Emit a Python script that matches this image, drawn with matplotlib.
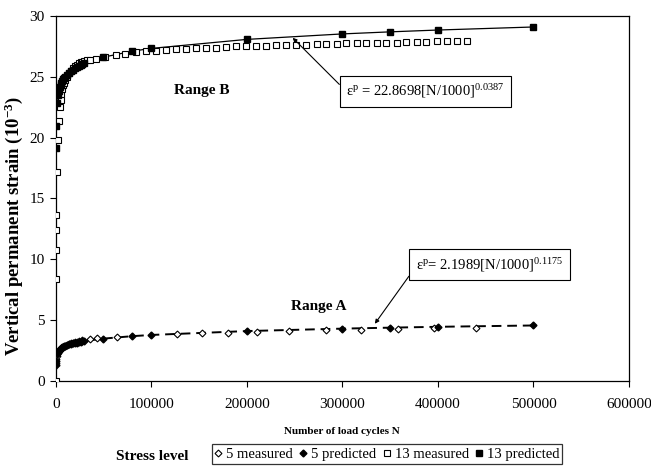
import matplotlib
matplotlib.use("Agg")
import matplotlib.pyplot as plt
from matplotlib.lines import Line2D

plt.rcParams["font.family"] = ["Liberation Serif", "DejaVu Serif"]
plt.rcParams["mathtext.fontset"] = "custom"
plt.rcParams["mathtext.rm"] = "Liberation Serif"
plt.rcParams["mathtext.it"] = "Liberation Serif:italic"
plt.rcParams["mathtext.bf"] = "Liberation Serif:bold"
plt.rcParams["mathtext.default"] = "regular"

# Stress level 13 (Range B) - measured
n13_meas = [0, 10, 100, 200, 500, 1000, 2000, 3000, 4000, 5000, 6000, 7000, 8000,
            9000, 10000, 12000, 14000, 16000, 18000, 20000, 22000, 24000, 26000,
            28000, 30000, 33000, 36000,
            42000, 52000, 63000, 73000, 84000, 94000, 105000, 115000, 126000,
            136000, 147000, 157000, 168000, 178000, 189000, 199000, 210000,
            220000, 231000, 241000, 252000, 262000, 273000, 283000, 294000,
            304000, 315000, 325000, 336000, 346000, 357000, 367000, 378000,
            388000, 399000, 409000, 420000, 430000]
e13_meas = [0.0, 8.4, 10.8, 12.4, 13.6, 17.2, 19.8, 21.4, 22.5, 23.1, 23.6, 24.0, 24.3,
            24.5, 24.7, 25.0, 25.3, 25.5, 25.7, 25.85, 26.0, 26.1, 26.2,
            26.25, 26.3, 26.35, 26.4,
            26.45, 26.65, 26.8, 26.9, 27.0, 27.1, 27.15, 27.2, 27.25,
            27.3, 27.35, 27.4, 27.4, 27.45, 27.5, 27.5, 27.55,
            27.55, 27.6, 27.6, 27.65, 27.65, 27.7, 27.7, 27.7,
            27.75, 27.75, 27.75, 27.8, 27.8, 27.8, 27.85, 27.85,
            27.85, 27.9, 27.9, 27.9, 27.95]

# Stress level 13 - predicted, eps = 22.8698 (N/1000)^0.0387
n_pred = [10, 100, 1000, 2000, 3000, 4000, 5000, 6000, 7000, 8000, 9000, 10000,
          12000, 14000, 16000, 18000, 20000, 22000, 24000, 26000, 28000, 30000,
          50000, 80000, 100000, 200000, 300000, 350000, 400000, 500000]
e13_pred = [19.14, 20.92, 22.87, 23.49, 23.86, 24.13, 24.34, 24.51, 24.66, 24.79, 24.90,
            25.00, 25.18, 25.33, 25.46, 25.58, 25.68, 25.78, 25.86, 25.94, 26.02,
            26.09, 26.61, 27.10, 27.33, 28.07, 28.52, 28.69, 28.84, 29.09]

# Stress level 5 (Range A) - measured
n5_meas = [100, 500, 1000, 2000, 3000, 4000, 5000, 6000, 8000, 10000, 12000, 14000,
           16000, 18000, 20000, 22000, 24000, 27000, 36000, 43000, 64000, 127000,
           153000, 180000, 211000, 244000, 283000, 320000, 358000, 396000, 440000]
e5_meas = [1.5, 1.8, 2.05, 2.3, 2.45, 2.55, 2.65, 2.72, 2.82, 2.9, 2.97, 3.03,
           3.08, 3.12, 3.17, 3.22, 3.27, 3.35, 3.45, 3.5, 3.6, 3.85,
           3.9, 3.95, 4.05, 4.1, 4.2, 4.22, 4.3, 4.33, 4.38]

# Stress level 5 - predicted, eps = 2.1989 (N/1000)^0.1175
e5_pred = [1.28, 1.68, 2.20, 2.39, 2.50, 2.59, 2.66, 2.71, 2.76, 2.81, 2.85,
           2.88, 2.94, 3.00, 3.05, 3.09, 3.13, 3.16, 3.19, 3.22, 3.25,
           3.28, 3.48, 3.68, 3.78, 4.10, 4.30, 4.38, 4.45, 4.56]

fig = plt.figure(figsize=(6.51, 4.68), dpi=100)
ax = fig.add_axes([0.0856, 0.186, 0.8806, 0.780])

ax.plot(n_pred, e5_pred, color="black", linestyle=(0, (5, 3)), linewidth=1.4, zorder=2)
ax.plot(n5_meas, e5_meas, linestyle="none", marker="D", markersize=3.5,
        markerfacecolor="white", markeredgecolor="black", markeredgewidth=0.8, zorder=3)
ax.plot(n_pred, e5_pred, linestyle="none", marker="D", markersize=3.5,
        color="black", zorder=4)

ax.plot(n_pred, e13_pred, color="black", linewidth=0.9, zorder=2)
ax.plot(n13_meas, e13_meas, linestyle="none", marker="s", markersize=4.5,
        markerfacecolor="white", markeredgecolor="black", markeredgewidth=0.8, zorder=3)
ax.plot(n_pred, e13_pred, linestyle="none", marker="s", markersize=5,
        color="black", zorder=4)

ax.set_xlim(0, 600000)
ax.set_ylim(0, 30)
ax.set_xticks(range(0, 600001, 100000))
ax.set_yticks(range(0, 31, 5))
ax.tick_params(direction="out", length=4, width=0.8, labelsize=11)
ax.tick_params(axis="x", pad=8)
ax.tick_params(axis="y", pad=4)
for s in ax.spines.values():
    s.set_linewidth(0.9)

# y label placed on the figure so it sits low along the left edge
fig.text(14 / 651, 1 - 226 / 468, r"Vertical permanent strain (10$^{-3}$)",
         fontsize=13.5, fontweight="bold", rotation=90, ha="center", va="center")
ax.set_xlabel("Number of load cycles N", fontsize=8, fontweight="bold", labelpad=12)

ax.text(153000, 23.9, "Range B", fontsize=11, fontweight="bold", ha="center", va="center")
ax.text(275000, 6.1, "Range A", fontsize=11, fontweight="bold", ha="center", va="center")

box = dict(boxstyle="square,pad=0.45", facecolor="white", edgecolor="black", linewidth=0.8)
ax.annotate(r"ε$^{p}$ = 22.8698[N/1000]$^{0.0387}$", xy=(248000, 28.2),
            xytext=(387000, 23.8), fontsize=10.5, ha="center", va="center", bbox=box,
            arrowprops=dict(arrowstyle="-|>", color="black", lw=0.8,
                            mutation_scale=6, relpos=(0, 0.5), shrinkA=0, shrinkB=0))
ax.annotate(r"ε$^{p}$= 2.1989[N/1000]$^{0.1175}$", xy=(334000, 4.7),
            xytext=(454000, 9.55), fontsize=10.5, ha="center", va="center", bbox=box,
            arrowprops=dict(arrowstyle="-|>", color="black", lw=0.8,
                            mutation_scale=6, relpos=(0, 0.4), shrinkA=0, shrinkB=0))

handles = [
    Line2D([], [], linestyle="none", marker="D", markersize=3.5,
           markerfacecolor="white", markeredgecolor="black", markeredgewidth=0.8),
    Line2D([], [], linestyle="none", marker="D", markersize=3.5, color="black"),
    Line2D([], [], linestyle="none", marker="s", markersize=4.5,
           markerfacecolor="white", markeredgecolor="black", markeredgewidth=0.8),
    Line2D([], [], linestyle="none", marker="s", markersize=5, color="black"),
]
labels = ["5 measured", "5 predicted", "13 measured", "13 predicted"]
leg = fig.legend(handles, labels, loc="center", bbox_to_anchor=(387 / 651, 1 - 454 / 468),
                 ncol=4, fontsize=10.5, frameon=True, fancybox=False, handlelength=0.5,
                 handletextpad=0.3, columnspacing=0.45, borderpad=0.2, borderaxespad=0)
leg.get_frame().set_edgecolor("black")
leg.get_frame().set_linewidth(0.9)

fig.text(152 / 651, 1 - 457 / 468, "Stress level", fontsize=11, fontweight="bold",
         ha="center", va="center")

fig.savefig("out.png", dpi=100)
